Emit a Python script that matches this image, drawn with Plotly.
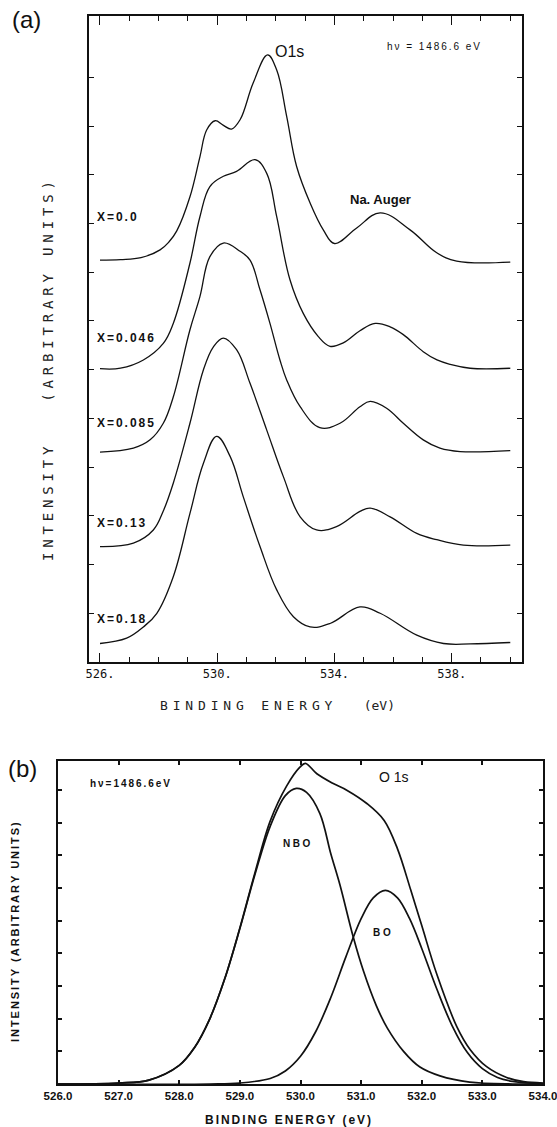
import plotly.graph_objects as go

# ---------------- panel (a): O 1s spectra for several compositions ----------------
e_x000 = [526.0, 526.7, 527.4, 528.05, 528.35, 528.62, 529.07, 529.41, 529.64, 529.93, 530.2,
          530.49, 530.78, 531.23, 531.72, 532.03, 532.37, 532.71, 533.17, 533.62, 534.0, 534.76,
          535.56, 536.58, 537.49, 538.17, 540.0]
i_x000 = [8.25, 8.26, 8.30, 8.46, 8.62, 8.85, 9.55, 10.37, 10.92, 11.11, 11.02,
          10.94, 11.13, 11.89, 12.46, 12.15, 11.20, 10.17, 9.42, 8.87, 8.59, 8.91,
          9.22, 8.87, 8.40, 8.23, 8.21]

e_x046 = [526.0, 526.7, 527.48, 528.16, 528.5, 529.07, 529.41, 529.75, 530.21, 530.66, 531.29,
          531.69, 532.03, 532.48, 532.94, 533.45, 533.85, 534.3, 534.87, 535.39, 535.9, 536.35,
          537.03, 537.5, 537.95, 538.63, 540.0]
i_x046 = [6.02, 6.03, 6.20, 6.54, 6.95, 8.19, 9.14, 9.76, 9.97, 10.07, 10.31,
          10.03, 9.14, 7.85, 7.15, 6.68, 6.48, 6.55, 6.80, 6.95, 6.88, 6.72,
          6.37, 6.20, 6.11, 6.03, 6.03]

e_x085 = [526.0, 527.14, 527.71, 528.16, 528.5, 529.07, 529.41, 529.75, 530.21, 530.78, 531.12,
          531.46, 531.8, 532.14, 532.37, 532.83, 533.5, 534.19, 534.87, 535.22, 535.78, 536.35,
          537.03, 537.6, 538.29, 540.0]
i_x085 = [4.31, 4.39, 4.56, 4.90, 5.44, 6.82, 7.50, 8.32, 8.60, 8.43, 8.25,
          7.64, 6.95, 6.20, 5.79, 5.24, 4.81, 4.90, 5.24, 5.35, 5.21, 4.90,
          4.56, 4.39, 4.32, 4.34]

e_x130 = [526.0, 527.14, 527.82, 528.16, 528.5, 529.07, 529.53, 529.87, 530.21, 530.66, 531.12,
          531.69, 532.26, 532.83, 533.39, 534.07, 534.87, 535.22, 535.9, 536.81, 537.49, 538.4,
          540.0]
i_x130 = [2.37, 2.44, 2.71, 3.10, 3.67, 4.90, 6.00, 6.47, 6.65, 6.41, 5.72,
          4.76, 3.80, 2.98, 2.71, 2.78, 3.09, 3.16, 2.98, 2.64, 2.51, 2.40,
          2.40]

e_x180 = [526.0, 526.91, 527.48, 527.94, 528.5, 529.07, 529.53, 529.98, 530.44, 530.89, 531.46,
          532.03, 532.6, 533.17, 533.85, 534.87, 535.56, 536.81, 537.72, 538.63, 540.0]
i_x180 = [0.38, 0.49, 0.72, 1.00, 1.75, 3.05, 4.08, 4.63, 4.22, 3.39, 2.37,
          1.48, 0.93, 0.72, 0.79, 1.13, 1.00, 0.55, 0.38, 0.37, 0.40]

series_a = [
    ("X=0.0", e_x000, i_x000, 9.14),
    ("X=0.046", e_x046, i_x046, 6.65),
    ("X=0.085", e_x085, i_x085, 4.91),
    ("X=0.13", e_x130, i_x130, 2.85),
    ("X=0.18", e_x180, i_x180, 0.88),
]

# ---------------- panel (b): O 1s envelope and its NBO / BO components ----------------
e_total = [526.0, 527.0, 527.5, 528.0, 528.25, 528.5, 528.75, 529.0, 529.25, 529.5, 529.77,
           529.99, 530.08, 530.27, 530.54, 530.77, 531.1, 531.38, 531.6, 531.82, 532.0, 532.25,
           532.58, 532.8, 533.07, 533.4, 533.68, 534.0]
i_total = [0.0, 0.03, 0.12, 0.57, 1.11, 1.98, 3.22, 4.78, 6.48, 8.05, 9.12,
           9.70, 9.82, 9.50, 9.20, 8.99, 8.58, 8.07, 7.2, 5.93, 4.85, 3.35,
           1.75, 1.05, 0.53, 0.2, 0.07, 0.03]

e_nbo = [526.0, 527.0, 527.5, 528.0, 528.25, 528.5, 528.75, 529.0, 529.25, 529.5, 529.75,
         529.93, 530.1, 530.32, 530.5, 530.65, 530.87, 531.04, 531.25, 531.43, 531.7, 531.97,
         532.3, 532.79, 533.5, 534.0]
i_nbo = [0.0, 0.03, 0.12, 0.57, 1.11, 1.98, 3.22, 4.76, 6.42, 7.89, 8.83,
         9.05, 8.93, 8.28, 7.05, 6.1, 4.5, 3.45, 2.4, 1.72, 1.0, 0.52,
         0.25, 0.06, 0.0, 0.0]

e_bo = [526.0, 528.5, 529.0, 529.5, 529.75, 530.0, 530.25, 530.5, 530.75, 531.0, 531.2,
        531.4, 531.6, 531.8, 532.0, 532.25, 532.5, 532.75, 533.0, 533.25, 533.5, 534.0]
i_bo = [0.0, 0.0, 0.03, 0.17, 0.40, 0.85, 1.60, 2.65, 3.90, 5.06, 5.70,
        5.93, 5.70, 5.06, 4.15, 2.90, 1.79, 0.97, 0.47, 0.20, 0.08, 0.01]

W, H = 557, 1127


def spaced(text, gap):
    """Spread letters apart by inserting small spaces between them."""
    pad = f'<span style="font-size:{gap}px"> </span>'
    return pad.join(text)


def px(x, y):
    return x / W, 1 - y / H


fig = go.Figure()

for name, e, i, _ in series_a:
    fig.add_trace(go.Scatter(x=e, y=i, mode="lines", name=name, xaxis="x", yaxis="y",
                             line=dict(color="#111", width=1.3, shape="spline", smoothing=1.1),
                             hoverinfo="skip"))

for name, e, i in [("O 1s", e_total, i_total), ("NBO", e_nbo, i_nbo), ("BO", e_bo, i_bo)]:
    fig.add_trace(go.Scatter(x=e, y=i, mode="lines", name=name, xaxis="x2", yaxis="y2",
                             line=dict(color="#111", width=1.7, shape="spline", smoothing=1.0),
                             hoverinfo="skip"))

mono = "DejaVu Sans Mono"
sans = "Liberation Sans"

axis_common = dict(showline=True, linecolor="#111", mirror="ticks", showgrid=False,
                   zeroline=False, ticks="inside", tickcolor="#111", automargin=False)

fig.update_layout(
    width=W, height=H, margin=dict(l=0, r=0, t=0, b=0, autoexpand=False),
    paper_bgcolor="white", plot_bgcolor="white", showlegend=False,
    xaxis=dict(domain=[89 / W, 522 / W], range=[525.625, 540.40], anchor="y",
               tick0=526, dtick=4, ticksuffix=".", ticklen=9, tickwidth=1.3, linewidth=1.6,
               minor=dict(tick0=526, dtick=1, ticks="inside", ticklen=5, tickcolor="#111"),
               tickfont=dict(family=mono, size=12, color="#111"), **axis_common),
    yaxis=dict(domain=[1 - 662 / H, 1 - 16 / H], range=[0, 13.26], anchor="x",
               tickvals=list(range(1, 13)), showticklabels=False, ticklen=5, tickwidth=1.2,
               linewidth=1.6, **axis_common),
    xaxis2=dict(domain=[58 / W, 543 / W], range=[526, 534], anchor="y2",
                tick0=526, dtick=1, tickformat=".1f", ticklen=4, tickwidth=1.5, linewidth=2.2,
                ticklabeloverflow="allow",
                tickfont=dict(family=sans, size=11.5, color="#111", weight="bold"), **axis_common),
    yaxis2=dict(domain=[1 - 1084 / H, 1 - 761 / H], range=[0, 9.89], anchor="x2",
                tickvals=list(range(1, 10)), showticklabels=False, ticklen=4, tickwidth=1.5,
                linewidth=2.2, **axis_common),
)

ann = []

# curve labels, panel (a)
for name, _, _, ylab in series_a:
    ann.append(dict(x=525.83, y=ylab, xref="x", yref="y", xanchor="left", yanchor="middle",
                    text="<b>" + spaced(name, 7) + "</b>", showarrow=False,
                    font=dict(family=sans, size=12, color="#111")))

ann += [
    dict(x=531.9, y=12.53, xref="x", yref="y", xanchor="left", yanchor="middle",
         text="O1s", showarrow=False, font=dict(family=sans, size=16, color="#111")),
    dict(x=535.73, y=12.63, xref="x", yref="y", xanchor="left", yanchor="middle",
         text=spaced("h\u03bd = 1486.6 eV", 7), showarrow=False,
         font=dict(family=sans, size=10, color="#111")),
    dict(x=534.46, y=9.49, xref="x", yref="y", xanchor="left", yanchor="middle",
         text="<b>Na. Auger</b>", showarrow=False, font=dict(family=sans, size=13, color="#111")),
    # panel (b) labels
    dict(x=526.5, y=9.2, xref="x2", yref="y2", xanchor="left", yanchor="middle",
         text="<b>" + spaced("h\u03bd=1486.6eV", 7) + "</b>", showarrow=False,
         font=dict(family=sans, size=10, color="#111")),
    dict(x=531.26, y=9.39, xref="x2", yref="y2", xanchor="left", yanchor="middle",
         text="O 1s", showarrow=False, font=dict(family=sans, size=14, color="#111")),
    dict(x=529.94, y=7.37, xref="x2", yref="y2", xanchor="center", yanchor="middle",
         text="<b>" + spaced("NBO", 9) + "</b>", showarrow=False,
         font=dict(family=sans, size=10, color="#111")),
    dict(x=531.35, y=4.65, xref="x2", yref="y2", xanchor="center", yanchor="middle",
         text="<b>" + spaced("BO", 10) + "</b>", showarrow=False,
         font=dict(family=sans, size=10, color="#111")),
]

# axis titles and panel letters
x0, y0 = px(48, 371)
ann.append(dict(x=x0, y=y0, xref="paper", yref="paper", xanchor="center", yanchor="middle",
                textangle=-90, showarrow=False,
                text=spaced("INTENSITY   (ARBITRARY UNITS)", 8),
                font=dict(family=mono, size=14, color="#222")))
x0, y0 = px(277, 705)
ann.append(dict(x=x0, y=y0, xref="paper", yref="paper", xanchor="center", yanchor="middle",
                showarrow=False, text=spaced("BINDING ENERGY", 8) + "    (eV)",
                font=dict(family=mono, size=13, color="#222")))
x0, y0 = px(15, 932)
ann.append(dict(x=x0, y=y0, xref="paper", yref="paper", xanchor="center", yanchor="middle",
                textangle=-90, showarrow=False,
                text="<b>" + spaced("INTENSITY (ARBITRARY UNITS)", 7) + "</b>",
                font=dict(family=sans, size=11, color="#111")))
x0, y0 = px(288, 1120)
ann.append(dict(x=x0, y=y0, xref="paper", yref="paper", xanchor="center", yanchor="middle",
                showarrow=False, text="<b>" + spaced("BINDING ENERGY (eV)", 7) + "</b>",
                font=dict(family=sans, size=12, color="#111")))
x0, y0 = px(26, 20)
ann.append(dict(x=x0, y=y0, xref="paper", yref="paper", xanchor="center", yanchor="middle",
                showarrow=False, text="(a)", font=dict(family=sans, size=24, color="#111")))
x0, y0 = px(22, 768)
ann.append(dict(x=x0, y=y0, xref="paper", yref="paper", xanchor="center", yanchor="middle",
                showarrow=False, text="(b)", font=dict(family=sans, size=24, color="#111")))

fig.update_layout(annotations=ann)
fig.write_html("out.html")
